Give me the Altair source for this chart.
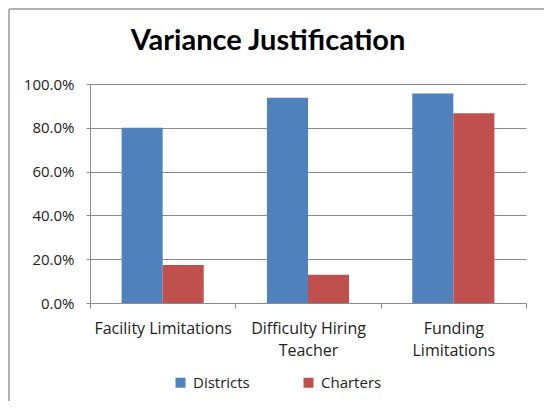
import altair as alt
import pandas as pd

categories = ["Facility Limitations", "Difficulty Hiring Teacher", "Funding Limitations"]
label_lines = [["Facility Limitations"], ["Difficulty Hiring", "Teacher"], ["Funding", "Limitations"]]
series = ["Districts", "Charters"]
districts = [0.800, 0.937, 0.957]
charters = [0.174, 0.129, 0.866]
colors = ["#4F81BD", "#C0504D"]
y_ticks = [0.0, 0.2, 0.4, 0.6, 0.8, 1.0]

rows = []
for i, c in enumerate(categories):
    rows.append({"category": c, "series": series[0], "value": districts[i]})
    rows.append({"category": c, "series": series[1], "value": charters[i]})
df = pd.DataFrame(rows)

parts = []
for c, lines in zip(categories, label_lines):
    arr = "[" + ",".join("'" + l + "'" for l in lines) + "]"
    parts.append(f"datum.value == '{c}' ? {arr}")
label_expr = " : ".join(parts) + " : datum.label"

FONT = "Open Sans"
GRAY = "#8c8c8c"

bars = alt.Chart(df).mark_bar().encode(
    x=alt.X(
        "category:N",
        sort=categories,
        scale=alt.Scale(paddingInner=0, paddingOuter=0),
        axis=alt.Axis(
            title=None, labelAngle=0, labelExpr=label_expr, tickBand="extent",
            domainColor=GRAY, tickColor=GRAY, tickSize=5, grid=False,
            labelFont=FONT, labelFontSize=16, labelColor="#222",
            labelPadding=12, labelLineHeight=22, labelBaseline="top",
        ),
    ),
    xOffset=alt.XOffset("series:N", sort=series,
                        scale=alt.Scale(paddingInner=0, paddingOuter=0.77)),
    y=alt.Y(
        "value:Q",
        scale=alt.Scale(domain=[0, 1], nice=False),
        axis=alt.Axis(
            title=None, format=".1%", values=y_ticks,
            domainColor=GRAY, tickColor=GRAY, tickSize=4,
            gridColor=GRAY, gridWidth=1,
            labelFont=FONT, labelFontSize=15, labelColor="#222", labelPadding=12,
        ),
    ),
    color=alt.Color(
        "series:N", sort=series,
        scale=alt.Scale(domain=series, range=colors),
        legend=alt.Legend(
            title=None, orient="none", legendX=83, legendY=291,
            direction="horizontal", symbolType="square", symbolSize=100,
            symbolStrokeWidth=0, labelFont=FONT, labelFontSize=15,
            labelColor="#222", columnPadding=51, labelOffset=5,
        ),
    ),
)

frame = pd.DataFrame({"k": [0]})
top_border = alt.Chart(frame).mark_rule(color="#999999", strokeWidth=1.5).encode(
    x=alt.value(-81), x2=alt.value(470), y=alt.value(-75), y2=alt.value(-75)
)
left_border = alt.Chart(frame).mark_rule(color="#999999", strokeWidth=1.5).encode(
    x=alt.value(-81), x2=alt.value(-81), y=alt.value(-75), y2=alt.value(330)
)

chart = alt.layer(bars, top_border, left_border).properties(
    width=436, height=219,
    title=alt.TitleParams(
        "Variance Justification", font="Lato", fontSize=29, fontWeight="bold",
        color="#000", anchor="middle", dx=-40, offset=-48,
    ),
    autosize=alt.AutoSizeParams(type="none"),
    padding={"left": 82, "top": 76, "right": 18, "bottom": 98},
).configure_view(stroke=None)

chart.save("out.html", embed_options={"renderer": "svg", "actions": False})
